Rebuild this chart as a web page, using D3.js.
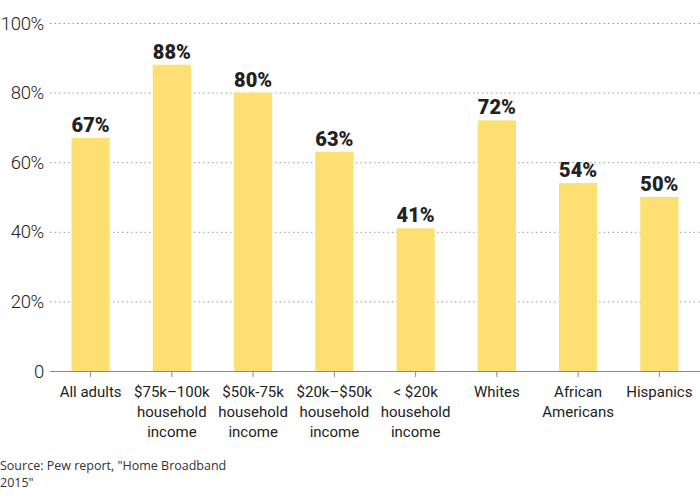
<!DOCTYPE html>
<html><head><meta charset="utf-8">
<script src="https://cdn.jsdelivr.net/npm/d3@7"></script>
<style>body{margin:0;background:#fff}svg{display:block}</style>
</head><body><svg id="c" width="700" height="500"></svg>
<script>
const categories = [
  ["All adults"],
  ["$75k\u2013100k","household","income"],
  ["$50k-75k","household","income"],
  ["$20k\u2013$50k","household","income"],
  ["< $20k","household","income"],
  ["Whites"],
  ["African","Americans"],
  ["Hispanics"]
];
const values = [67, 88, 80, 63, 41, 72, 54, 50];
const yTicks = [0, 20, 40, 60, 80, 100];
const source = ["Source: Pew report, \"Home Broadband", "2015\""];

(function(){
const svg = d3.select("#c");
const mLeft = 50, mRight = 700, mTop = 23, mBottom = 371;
const keys = categories.map((c, i) => i);
const x = d3.scaleBand().domain(keys).range([mLeft, mRight]).paddingInner(0.53).paddingOuter(0.265);
const y = d3.scaleLinear().domain([0, 100]).range([mBottom, mTop]);

// gridlines
svg.append("g").selectAll("line").data(yTicks.filter(d => d > 0)).join("line")
  .attr("x1", mLeft).attr("x2", mRight)
  .attr("y1", d => y(d) + 0.5).attr("y2", d => y(d) + 0.5)
  .attr("stroke", "#9a9a9a").attr("stroke-width", 1).attr("stroke-dasharray", "1.5,3");

// y labels
svg.append("g").selectAll("text").data(yTicks).join("text")
  .attr("x", 44).attr("y", d => y(d)).attr("dy", "0.36em")
  .attr("text-anchor", "end")
  .style("font-family", "Roboto, sans-serif").style("font-weight", 300)
  .style("font-size", "18.5px").style("letter-spacing", "-0.3px").attr("fill", "#222")
  .text(d => d === 0 ? "0" : d + "%");

// bars
svg.append("g").selectAll("rect").data(values).join("rect")
  .attr("x", (d, i) => x(i)).attr("width", x.bandwidth())
  .attr("y", d => y(d)).attr("height", d => y(0) - y(d))
  .attr("fill", "#fddf72");

// value labels
svg.append("g").selectAll("text").data(values).join("text")
  .attr("x", (d, i) => x(i) + x.bandwidth() / 2).attr("y", d => y(d) - 6)
  .attr("text-anchor", "middle")
  .style("font-family", "Roboto, sans-serif").style("font-weight", 900)
  .style("font-size", "20px").attr("fill", "#222")
  .text(d => d + "%");

// x axis
const xAxis = d3.axisBottom(x).tickSize(6).tickFormat("");
const gx = svg.append("g").attr("transform", `translate(0,${mBottom})`).call(xAxis);
gx.select(".domain").attr("stroke", "#888").attr("d", `M${mLeft},0.5H${mRight}`);
gx.selectAll(".tick line").attr("stroke", "#888");

// category labels
const cl = svg.append("g").selectAll("text").data(categories).join("text")
  .attr("x", (d, i) => x(i) + x.bandwidth() / 2).attr("y", 397)
  .attr("text-anchor", "middle")
  .style("font-family", "Roboto, sans-serif").style("font-size", "15px").attr("fill", "#222");
cl.selectAll("tspan").data(d => d).join("tspan")
  .attr("x", function() { return this.parentNode.getAttribute("x"); })
  .attr("dy", (d, i) => i === 0 ? 0 : 20)
  .text(d => d);

// source
svg.append("text").attr("x", 0).attr("y", 470)
  .style("font-family", "'Open Sans', sans-serif").style("font-size", "12.5px").attr("fill", "#333")
  .selectAll("tspan").data(source).join("tspan")
  .attr("x", 0).attr("dy", (d, i) => i === 0 ? 0 : 17).text(d => d);
})();
</script></body></html>
